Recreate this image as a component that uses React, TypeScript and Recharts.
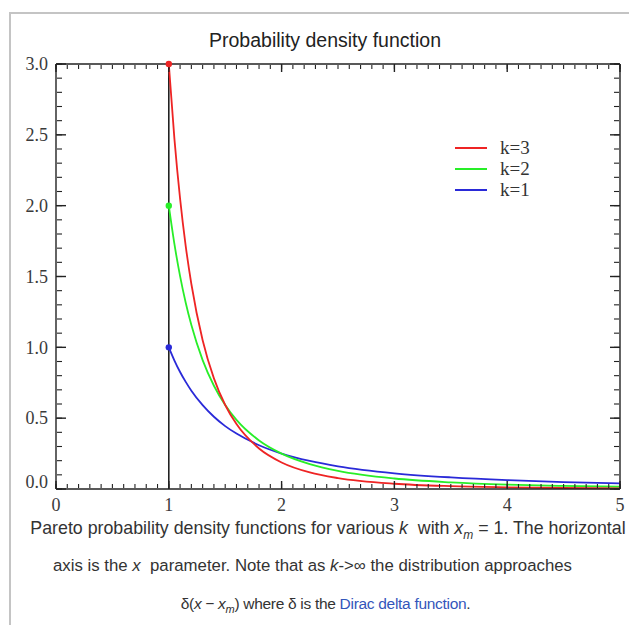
import { LineChart, Line, XAxis, YAxis } from "recharts";

// sample positions along x (dense near the peak at x = 1)
const xs = [1, 1.05, 1.1, 1.15, 1.2, 1.3, 1.4, 1.5, 1.6, 1.8, 2, 2.25, 2.5, 3, 3.5, 4, 4.5, 5];

// density values
const k3Values = [3, 2.47, 2.05, 1.715, 1.447, 1.05, 0.781, 0.593, 0.458, 0.286, 0.1875, 0.117, 0.077, 0.037, 0.02, 0.012, 0.007, 0.005];
const k2Values = [2, 1.728, 1.503, 1.315, 1.157, 0.91, 0.729, 0.593, 0.488, 0.343, 0.25, 0.176, 0.128, 0.074, 0.047, 0.031, 0.022, 0.016];
const k1Values = [1, 0.907, 0.826, 0.756, 0.694, 0.592, 0.51, 0.444, 0.391, 0.309, 0.25, 0.198, 0.16, 0.111, 0.082, 0.0625, 0.049, 0.04];

// vertical stem at x_m = 1
const stem = [
  { x: 1, y: 0 },
  { x: 1, y: 3 },
];

const xTicks = [0, 1, 2, 3, 4, 5];
const yTicks = [0, 0.5, 1, 1.5, 2, 2.5, 3];
const xMinorTicks = Array.from({ length: 51 }, (_, i) => i / 10);
const yMinorTicks = Array.from({ length: 31 }, (_, i) => i / 10);

const legendItems = [
  { name: "k=3", color: "#ee2424" },
  { name: "k=2", color: "#28ee28" },
  { name: "k=1", color: "#2a2ad8" },
];

const data = xs.map((x, i) => ({ x, k3: k3Values[i], k2: k2Values[i], k1: k1Values[i] }));

const axisColor = "#222";
const labelColor = "#3a3a3a";
const serif = "'Liberation Serif', 'DejaVu Serif', serif";
const sans = "'Liberation Sans', Arial, sans-serif";

const firstDot = (color: string) => (props: any) => {
  const { cx, cy, index } = props;
  if (index !== 0) return <g key={`d-${index}`} />;
  return <circle key={`d-${index}`} cx={cx} cy={cy} r={3.2} fill={color} stroke="none" />;
};

const YTick = (props: any) => {
  const { x, y, payload } = props;
  const shift = payload.value === 0 ? -7 : 0;
  return (
    <text x={x} y={y + shift} dy="0.35em" textAnchor="end" fill={labelColor} fontSize={18} fontFamily={serif}>
      {Number(payload.value).toFixed(1)}
    </text>
  );
};

// tick marks only, no label
const NoLabel = () => <g />;

const sub = { fontSize: 12, lineHeight: 0 };

export default function App() {
  const minor = { stroke: axisColor, strokeWidth: 1.1 };
  const major = { stroke: axisColor, strokeWidth: 1.4 };
  const frame = { stroke: axisColor, strokeWidth: 1.4 };
  return (
    <div style={{ position: "fixed", left: 0, top: 0, width: 629, height: 625, overflow: "hidden", background: "#fff" }}>
      <div
        style={{
          position: "absolute",
          left: 9,
          top: 12,
          width: 700,
          height: 700,
          borderLeft: "2px solid #c4c4c4",
          borderTop: "2px solid #c4c4c4",
        }}
      />
      <div
        style={{
          position: "absolute",
          left: 0,
          width: 650,
          top: 29,
          textAlign: "center",
          fontFamily: sans,
          fontSize: 19.5,
          lineHeight: "22px",
          color: "#222",
        }}
      >
        Probability density function
      </div>

      <div style={{ position: "absolute", left: 0, top: 0 }}>
        <LineChart width={629} height={518} data={data} margin={{ top: 64, right: 9, left: 16, bottom: 4 }}>
          {/* bottom: labels, then inward ticks */}
          <XAxis xAxisId="b" dataKey="x" type="number" domain={[0, 5]} ticks={xTicks} interval={0}
            tickLine={false} axisLine={frame} tickSize={5} tickMargin={4} height={25}
            tick={{ fill: labelColor, fontSize: 18, fontFamily: serif }} />
          <XAxis xAxisId="bMajor" dataKey="x" type="number" domain={[0, 5]} ticks={xTicks} interval={0}
            orientation="bottom" mirror height={1} tick={NoLabel} axisLine={false} tickSize={8} tickLine={major} />
          <XAxis xAxisId="bMinor" dataKey="x" type="number" domain={[0, 5]} ticks={xMinorTicks} interval={0}
            orientation="bottom" mirror height={1} tick={NoLabel} axisLine={false} tickSize={4} tickLine={minor} />
          {/* top frame */}
          <XAxis xAxisId="tMajor" dataKey="x" type="number" domain={[0, 5]} ticks={xTicks} interval={0}
            orientation="top" mirror height={1} tick={NoLabel} axisLine={frame} tickSize={8} tickLine={major} />
          <XAxis xAxisId="tMinor" dataKey="x" type="number" domain={[0, 5]} ticks={xMinorTicks} interval={0}
            orientation="top" mirror height={1} tick={NoLabel} axisLine={false} tickSize={4} tickLine={minor} />

          {/* left: labels, then inward ticks */}
          <YAxis yAxisId="l" type="number" domain={[0, 3]} ticks={yTicks} interval={0} width={40}
            tickLine={false} axisLine={frame} tickSize={4} tickMargin={4} tick={<YTick />} />
          <YAxis yAxisId="lMajor" type="number" domain={[0, 3]} allowDataOverflow ticks={yTicks} interval={0}
            orientation="left" mirror width={1} tick={NoLabel} axisLine={false} tickSize={10} tickLine={major} />
          <YAxis yAxisId="lMinor" type="number" domain={[0, 3]} allowDataOverflow ticks={yMinorTicks} interval={0}
            orientation="left" mirror width={1} tick={NoLabel} axisLine={false} tickSize={5} tickLine={minor} />
          {/* right frame */}
          <YAxis yAxisId="rMajor" type="number" domain={[0, 3]} allowDataOverflow ticks={yTicks} interval={0}
            orientation="right" mirror width={1} tick={NoLabel} axisLine={frame} tickSize={10} tickLine={major} />
          <YAxis yAxisId="rMinor" type="number" domain={[0, 3]} allowDataOverflow ticks={yMinorTicks} interval={0}
            orientation="right" mirror width={1} tick={NoLabel} axisLine={false} tickSize={5} tickLine={minor} />

          <Line xAxisId="b" yAxisId="l" data={stem} dataKey="y" type="linear" stroke="#222" strokeWidth={1.6}
            dot={false} activeDot={false} isAnimationActive={false} legendType="none" />
          <Line xAxisId="b" yAxisId="l" dataKey="k1" type="monotone" stroke={legendItems[2].color} strokeWidth={1.8}
            dot={firstDot(legendItems[2].color)} activeDot={false} isAnimationActive={false} />
          <Line xAxisId="b" yAxisId="l" dataKey="k2" type="monotone" stroke={legendItems[1].color} strokeWidth={1.8}
            dot={firstDot(legendItems[1].color)} activeDot={false} isAnimationActive={false} />
          <Line xAxisId="b" yAxisId="l" dataKey="k3" type="monotone" stroke={legendItems[0].color} strokeWidth={1.8}
            dot={firstDot(legendItems[0].color)} activeDot={false} isAnimationActive={false} />
        </LineChart>
      </div>

      {/* legend */}
      <div style={{ position: "absolute", left: 455, top: 137 }}>
        {legendItems.map((item) => (
          <div key={item.name} style={{ display: "flex", alignItems: "center", height: 21 }}>
            <div style={{ width: 32, height: 2, background: item.color, marginRight: 13 }} />
            <span style={{ fontFamily: serif, fontSize: 19, lineHeight: "21px", color: "#333" }}>{item.name}</span>
          </div>
        ))}
      </div>

      {/* caption */}
      <div
        style={{
          position: "absolute",
          left: 0,
          width: 656,
          top: 509,
          textAlign: "center",
          fontFamily: sans,
          lineHeight: "38px",
          color: "#333",
        }}
      >
        <div style={{ whiteSpace: "nowrap", height: 38, fontSize: 17.8 }}>
          Pareto probability density functions for various <i>k</i>&nbsp; with <i>x<sub style={sub}>m</sub></i> = 1. The horizontal
        </div>
        <div style={{ whiteSpace: "nowrap", height: 38, fontSize: 16.8, paddingRight: 31 }}>
          axis is the <i>x</i>&nbsp; parameter. Note that as <i>k</i>-&gt;∞ the distribution approaches
        </div>
        <div style={{ whiteSpace: "nowrap", height: 38, fontSize: 15.5, letterSpacing: -0.3, paddingRight: 5 }}>
          δ(<i>x</i> − <i>x<sub style={{ fontSize: 11, lineHeight: 0 }}>m</sub></i>) where δ is the <span style={{ color: "#3355bb" }}>Dirac delta function</span>.
        </div>
      </div>
    </div>
  );
}
